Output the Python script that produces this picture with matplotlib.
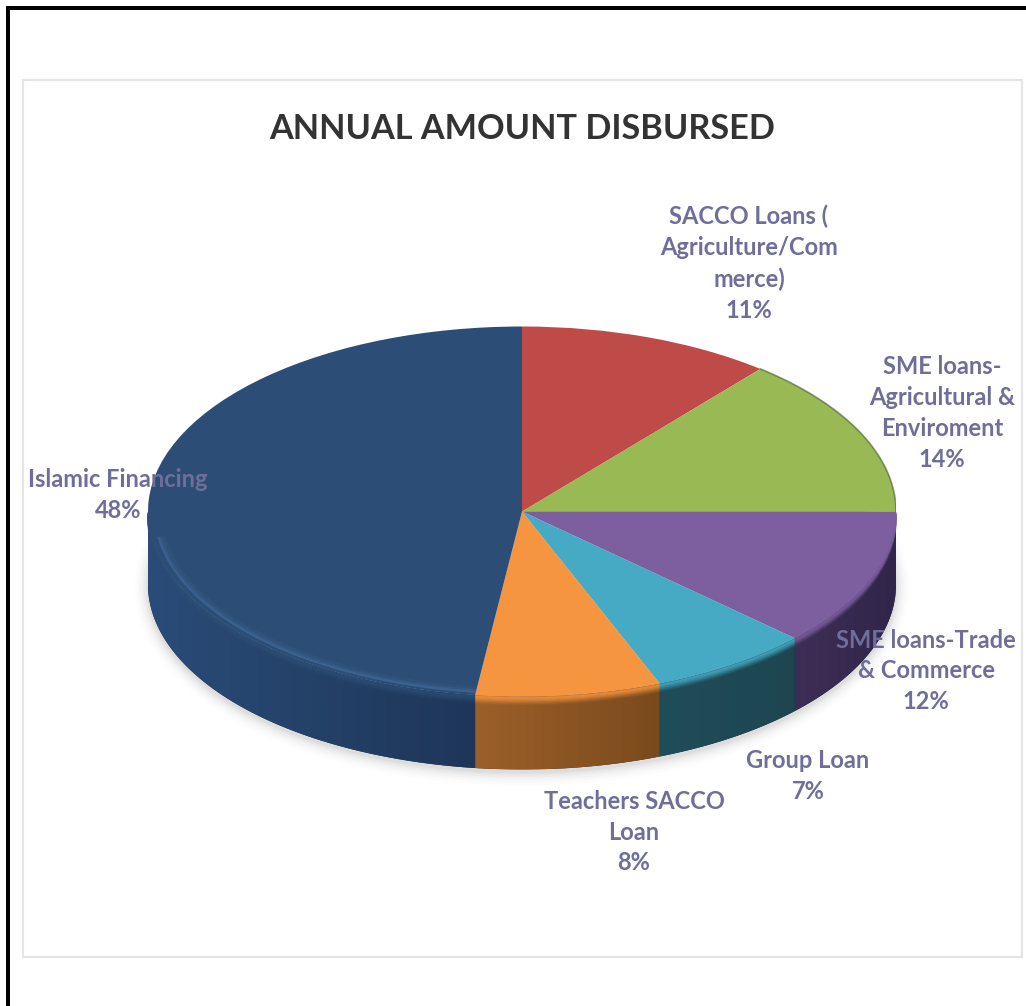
import numpy as np
import matplotlib
matplotlib.use("Agg")
import matplotlib.pyplot as plt
from matplotlib.patches import Rectangle, Ellipse, Polygon
from matplotlib.colors import to_rgb

plt.rcParams["font.family"] = ["Lato", "DejaVu Sans"]

title = "ANNUAL AMOUNT DISBURSED"
labels = [
    "SACCO Loans (\nAgriculture/Com\nmerce)",
    "SME loans-\nAgricultural &\nEnviroment",
    "SME loans-Trade\n& Commerce",
    "Group Loan",
    "Teachers SACCO\nLoan",
    "Islamic Financing",
]
shares = [11, 14, 12, 7, 8, 48]
colors = ["#BE4B48", "#98B954", "#7D5FA0", "#46AAC5", "#F59540", "#2C4D75"]
# side wall colour at the left and right end of each slice
wall_left = ["#7a2f2d", "#607535", "#3d2e55", "#1f4d59", "#9c602a", "#2a4c78"]
wall_right = ["#7a2f2d", "#607535", "#31254a", "#1d4650", "#7a4a1c", "#1e3658"]
rim_glow = [None, None, None, None, None, "#4a73a5"]
label_xy = [(749, 263), (942, 413), (926, 671), (808, 776), (634, 832), (118, 495)]

W, H = 1026, 1006
fig = plt.figure(figsize=(W / 100, H / 100), dpi=100, facecolor="white")

# pixel-coordinate axes for the frame, panel, shadow and side walls
bg = fig.add_axes([0, 0, 1, 1])
bg.axis("off")
bg.add_patch(Rectangle((6, 6), W, 4, fc="black", ec="none"))
bg.add_patch(Rectangle((6, 6), 4, H, fc="black", ec="none"))
bg.add_patch(Rectangle((22.5, 80), 999.5, 877, fc="white", ec="#e4e4e4", lw=1.5))

cx, cy, rx, ry, depth = 522, 511.5, 374, 185, 73


def rim(deg, drop=0.0, k=1.0):
    t = np.radians(deg)
    return cx + k * rx * np.sin(t), cy - k * ry * np.cos(t) + drop


# soft shadow under the disc
for grow, alpha in zip([26, 20, 15, 10, 6, 2], [0.012, 0.018, 0.025, 0.03, 0.04, 0.05]):
    bg.add_patch(Ellipse((cx, cy + depth + 3), 2 * rx + grow, 2 * ry + grow,
                         fc="#444444", ec="none", alpha=alpha, zorder=1))

edges = np.cumsum([0] + shares) * 3.6

# dark base under the wall gradients so no light seams show between slices
base_x, base_y = rim(np.linspace(90, 270, 400))
bg.add_patch(Polygon(np.r_[np.c_[base_x, base_y], np.c_[base_x[::-1], base_y[::-1] + depth]],
                     closed=True, fc="#1f2f45", ec="none", zorder=1.5))

for start, end, left, right, col in zip(edges[:-1], edges[1:], wall_left, wall_right, colors):
    lo, hi = max(start, 90), min(end, 270)
    if lo >= hi:
        continue
    # wall outline for the visible front part of this slice
    deg = np.linspace(lo, hi, 200)
    xs, ys = rim(deg)
    poly = Polygon(np.r_[np.c_[xs, ys], np.c_[xs[::-1], ys[::-1] + depth]], closed=True,
                   fc="none", ec="none", transform=bg.transData)
    bg.add_patch(poly)
    # horizontal gradient clipped to the wall
    mix = np.linspace(0, 1, 256)[None, :, None]
    grad = (1 - mix) * np.array(to_rgb(left)) + mix * np.array(to_rgb(right))
    im = bg.imshow(grad, extent=[xs.min(), xs.max(), ys.max() + depth, ys.min()],
                   aspect="auto", zorder=2, interpolation="bilinear")
    im.set_clip_path(poly)
    # top colour fading down into the wall
    for drop, alpha in zip([1, 2, 3, 4, 5, 6, 7, 8], [0.7, 0.6, 0.5, 0.4, 0.3, 0.2, 0.12, 0.06]):
        bg.plot(*rim(deg, drop), color=col, lw=1.4, alpha=alpha, zorder=3, solid_capstyle="butt")

bg.set_xlim(0, W)
bg.set_ylim(H, 0)

# top face: a normal pie squeezed into an ellipse by a free aspect
ax = fig.add_axes([(cx - rx) / W, 1 - (cy + ry) / H, 2 * rx / W, 2 * ry / H])
ax.patch.set_alpha(0)
wedges, _ = ax.pie(shares, colors=colors, startangle=90, counterclock=False, radius=1,
                   wedgeprops={"linewidth": 0})
ax.set_aspect("auto")
ax.set_xlim(-1, 1)
ax.set_ylim(-1, 1)

# bevel highlight just inside the front rim of the big slice, dark edge on the green one
for start, end, glow in zip(edges[:-1], edges[1:], rim_glow):
    if glow is None:
        continue
    t = np.radians(np.linspace(max(start, 90), min(end, 262), 300))
    for inset, lw, alpha in [(0.972, 5, 0.12), (0.978, 3, 0.22), (0.982, 1.5, 0.35)]:
        ax.plot(inset * np.sin(t), inset * np.cos(t), color=glow, lw=lw, alpha=alpha,
                solid_capstyle="butt")
t = np.radians(np.linspace(edges[1], edges[2], 120))
ax.plot(np.sin(t), np.cos(t), color="#3f5a2a", lw=1.2, alpha=0.6)

fig.text(522 / W, 1 - 129 / H, title, fontsize=24.7, fontweight="bold", color="#333333",
         ha="center", va="center")

# labels go on their own axes so they sit on top of the disc
ov = fig.add_axes([0, 0, 1, 1])
ov.set_xlim(0, W)
ov.set_ylim(H, 0)
ov.axis("off")
ov.patch.set_alpha(0)
for name, share, (x, y) in zip(labels, shares, label_xy):
    ov.text(x, y, f"{name}\n{share}%", ha="center", va="center", fontsize=17,
            fontweight="bold", color="#6f6e9b", linespacing=1.42)

fig.savefig("out.png", dpi=100, facecolor="white")
